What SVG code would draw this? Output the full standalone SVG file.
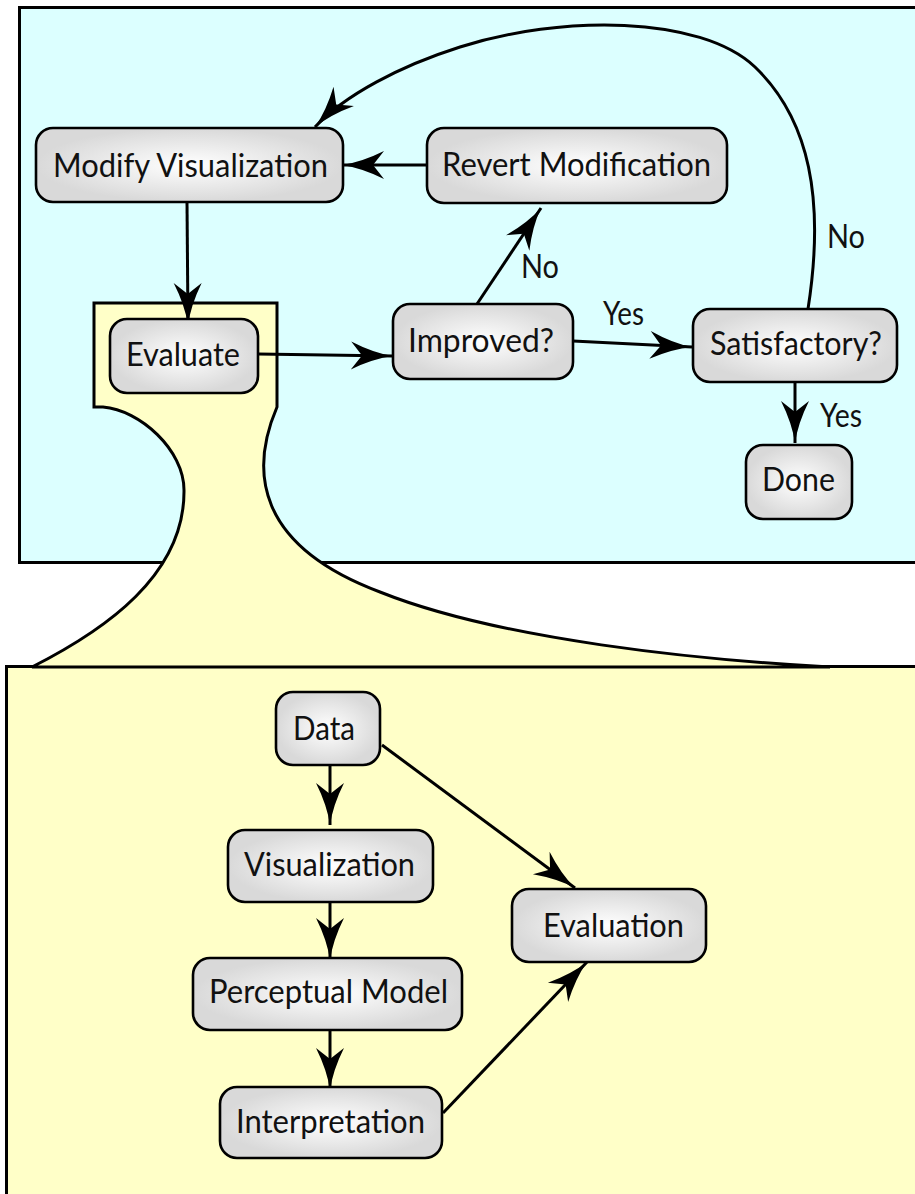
<svg xmlns="http://www.w3.org/2000/svg" width="915" height="1194" viewBox="0 0 915 1194">
<style>
.node rect{fill:url(#g);stroke:#000;stroke-width:2.6}
.node text,.lbl{font-family:"Lato","Liberation Sans",sans-serif;font-size:33px;fill:#111}
.conn path{fill:none;stroke:#000;stroke-width:3;marker-end:url(#arr)}
</style>
<defs>
<radialGradient id="g" cx="0.5" cy="0.5" r="0.5">
<stop offset="0" stop-color="#ffffff"/>
<stop offset="1" stop-color="#d9d9d9"/>
</radialGradient>
<marker id="arr" markerUnits="userSpaceOnUse" viewBox="-45 -16 48 32" markerWidth="48" markerHeight="32" refX="0" refY="0" orient="auto">
<path d="M0,0 Q-20,-3 -42,-14 L-31,0 L-42,14 Q-20,3 0,0 Z" fill="#000"/>
</marker>
</defs>
<g id="background">
<rect x="19.5" y="7.5" width="920" height="555" fill="#dcffff" stroke="#000" stroke-width="3"/>
<rect x="6.5" y="666.5" width="940" height="600" fill="#ffffc8" stroke="#000" stroke-width="3"/>
<path id="funnel" d="M94,303 H277 V407 C250,470 255,545 380,592 C500,640 700,660 830,667 L32,667 C105,630 185,575 184,490 C184,450 140,410 103,407 L94,407 Z" fill="#ffffc8" stroke="#000" stroke-width="3" stroke-linejoin="miter"/>
</g>
<g id="connectors" class="conn">
<path d="M427,165 L342,165"/>
<path d="M187,202 L188,325"/>
<path d="M258,354 L393,356"/>
<path d="M477,304 L541,208"/>
<path d="M573,341 L692,347"/>
<path d="M795,382 L795,443"/>
<path d="M808,309 C825,200 810,120 755,67 C700,15 560,15 460,47 C400,66 345,95 315,127"/>
<path d="M330,765 L330,825"/>
<path d="M330,902 L330,960"/>
<path d="M330,1030 L330,1090"/>
<path d="M382,745 L575,888"/>
<path d="M443,1113 L587,962"/>
</g>
<g id="labels">
<text class="lbl" x="521" y="278" textLength="38" lengthAdjust="spacingAndGlyphs">No</text>
<text class="lbl" x="827" y="248" textLength="38" lengthAdjust="spacingAndGlyphs">No</text>
<text class="lbl" x="603" y="325" textLength="41" lengthAdjust="spacingAndGlyphs">Yes</text>
<text class="lbl" x="820" y="427" textLength="42" lengthAdjust="spacingAndGlyphs">Yes</text>
</g>
<g id="modify" class="node"><rect x="36" y="128" width="307" height="74" rx="17"/><text x="53" y="177" textLength="275" lengthAdjust="spacingAndGlyphs">Modify Visualization</text></g>
<g id="revert" class="node"><rect x="427" y="128" width="300" height="75" rx="17"/><text x="442" y="176" textLength="269" lengthAdjust="spacingAndGlyphs">Revert Modification</text></g>
<g id="evaluate" class="node"><rect x="110" y="319" width="148" height="74" rx="17"/><text x="126" y="366" textLength="114" lengthAdjust="spacingAndGlyphs">Evaluate</text></g>
<g id="improved" class="node"><rect x="393" y="304" width="180" height="75" rx="17"/><text x="408" y="352" textLength="146" lengthAdjust="spacingAndGlyphs">Improved?</text></g>
<g id="satisfactory" class="node"><rect x="693" y="309" width="204" height="73" rx="17"/><text x="710" y="355" textLength="172" lengthAdjust="spacingAndGlyphs">Satisfactory?</text></g>
<g id="done" class="node"><rect x="746" y="445" width="106" height="74" rx="17"/><text x="762" y="491" textLength="73" lengthAdjust="spacingAndGlyphs">Done</text></g>
<g id="data" class="node"><rect x="276" y="692" width="104" height="73" rx="17"/><text x="293" y="740" textLength="62" lengthAdjust="spacingAndGlyphs">Data</text></g>
<g id="visualization" class="node"><rect x="228" y="830" width="205" height="72" rx="17"/><text x="244" y="876" textLength="171" lengthAdjust="spacingAndGlyphs">Visualization</text></g>
<g id="perceptual" class="node"><rect x="193" y="958" width="269" height="72" rx="17"/><text x="209" y="1003" textLength="239" lengthAdjust="spacingAndGlyphs">Perceptual Model</text></g>
<g id="interpretation" class="node"><rect x="220" y="1087" width="222" height="71" rx="17"/><text x="236" y="1133" textLength="189" lengthAdjust="spacingAndGlyphs">Interpretation</text></g>
<g id="evaluation" class="node"><rect x="512" y="889" width="194" height="73" rx="17"/><text x="543" y="937" textLength="141" lengthAdjust="spacingAndGlyphs">Evaluation</text></g>
</svg>
